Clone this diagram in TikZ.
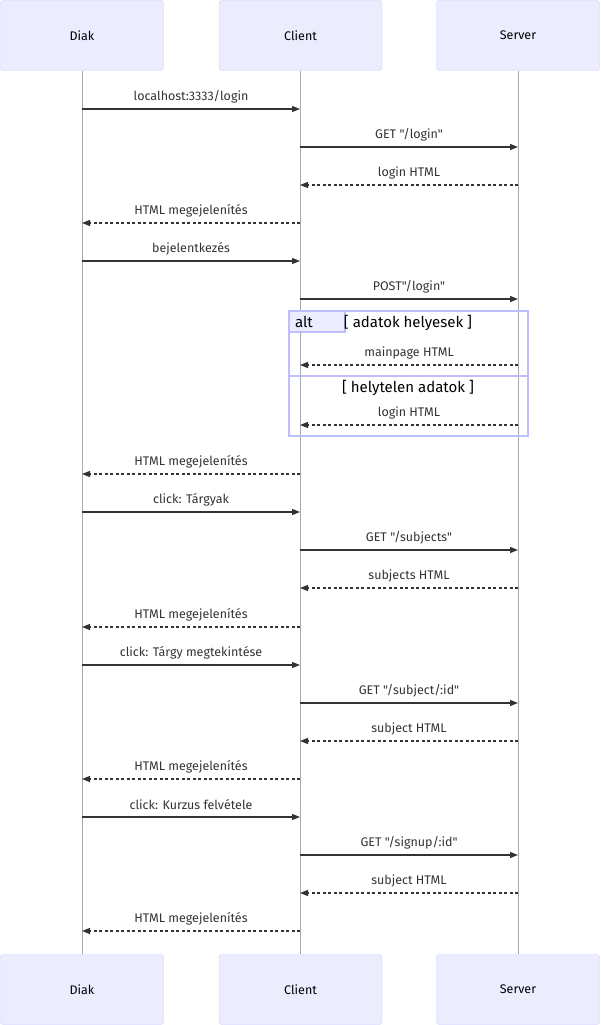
\documentclass[tikz,border=0pt]{standalone}
\usepackage{fontspec}
\setmainfont{Fira Sans}[Ligatures=TeXOff]
\usetikzlibrary{arrows.meta}

\definecolor{actorfill}{RGB}{236,236,255}
\definecolor{actorline}{RGB}{204,204,255}
\definecolor{altline}{RGB}{190,190,250}
\definecolor{msgline}{RGB}{51,51,51}
\definecolor{lifeline}{RGB}{170,170,170}

\tikzset{
  actor/.style={rectangle, draw=actorline, fill=actorfill, rounded corners=3pt,
    minimum width=163pt, minimum height=70pt, inner sep=0pt, font=\fontsize{12.5}{14}\selectfont},
  life/.style={draw=lifeline, line width=0.8pt},
  call/.style={draw=msgline, line width=1.3pt, -{Triangle[length=8pt,width=6pt]}},
  reply/.style={call, dash pattern=on 3pt off 2.5pt},
  msglabel/.style={midway, yshift=12pt, inner sep=0pt, text=msgline, font=\fontsize{12.5}{14}\selectfont},
  altframe/.style={draw=altline, line width=1.6pt},
  guard/.style={inner sep=0pt, text=black, font=\fontsize{15}{17}\selectfont}
}

\begin{document}
\begin{tikzpicture}[x=1pt, y=-1pt]
    \useasboundingbox (0,0) rectangle (600,1025);

    % Actor boxes
    \path
    (82,35.5) node[actor] (DiakTop) {Diak}
    (300.5,35.5) node[actor] (ClientTop) {Client}
    (518,35.5) node[actor] (ServerTop) {Server}
    (82,989.5) node[actor] (DiakBot) {Diak}
    (300.5,989.5) node[actor] (ClientBot) {Client}
    (518,989.5) node[actor] (ServerBot) {Server}
    ;

    % Lifelines
    \draw[life] (DiakTop) -- (DiakBot);
    \draw[life] (ClientTop) -- (ClientBot);
    \draw[life] (ServerTop) -- (ServerBot);

    % Message end points
    \path
    (82,109) coordinate (d1) (300,109) coordinate (c1)
    (300,147) coordinate (c2) (518,147) coordinate (s2)
    (518,185) coordinate (s3) (300,185) coordinate (c3)
    (300,223) coordinate (c4) (82,223) coordinate (d4)
    (82,261) coordinate (d5) (300,261) coordinate (c5)
    (300,299) coordinate (c6) (518,299) coordinate (s6)
    (518,365) coordinate (s7) (300,365) coordinate (c7)
    (518,425) coordinate (s8) (300,425) coordinate (c8)
    (300,474) coordinate (c9) (82,474) coordinate (d9)
    (82,512) coordinate (d10) (300,512) coordinate (c10)
    (300,550) coordinate (c11) (518,550) coordinate (s11)
    (518,588) coordinate (s12) (300,588) coordinate (c12)
    (300,627) coordinate (c13) (82,627) coordinate (d13)
    (82,665) coordinate (d14) (300,665) coordinate (c14)
    (300,703) coordinate (c15) (518,703) coordinate (s15)
    (518,741) coordinate (s16) (300,741) coordinate (c16)
    (300,779) coordinate (c17) (82,779) coordinate (d17)
    (82,817) coordinate (d18) (300,817) coordinate (c18)
    (300,855) coordinate (c19) (518,855) coordinate (s19)
    (518,893) coordinate (s20) (300,893) coordinate (c20)
    (300,931) coordinate (c21) (82,931) coordinate (d21)
    ;

    % Login
    \draw[call] (d1) -- node[msglabel] {localhost:3333/login} (c1);
    \draw[call] (c2) -- node[msglabel] {GET "/login"} (s2);
    \draw[reply] (s3) -- node[msglabel] {login HTML} (c3);
    \draw[reply] (c4) -- node[msglabel] {HTML megejelenítés} (d4);
    \draw[call] (d5) -- node[msglabel] {bejelentkezés} (c5);
    \draw[call] (c6) -- node[msglabel] {POST"/login"} (s6);

    % Alt frame
    \node[altframe, minimum width=239pt, minimum height=125pt, inner sep=0pt] (alt) at (408.5,373.5) {};
    \node[altframe, fill=actorfill, anchor=north west, minimum width=56pt, minimum height=21pt,
      inner sep=0pt, font=\fontsize{15}{17}\selectfont, align=left, text width=44pt] (altTag) at (alt.north west) {alt};
    \node[guard] (okGuard) at (408,323) {[ adatok helyesek ]};
    \coordinate (splitL) at (289,376);
    \coordinate (splitR) at (528,376);
    \draw[altframe] (splitL) -- (splitR);
    \node[guard] (badGuard) at (408,388) {[ helytelen adatok ]};
    \draw[reply] (s7) -- node[msglabel] {mainpage HTML} (c7);
    \draw[reply] (s8) -- node[msglabel] {login HTML} (c8);
    \draw[reply] (c9) -- node[msglabel] {HTML megejelenítés} (d9);

    % Subjects
    \draw[call] (d10) -- node[msglabel] {click: Tárgyak} (c10);
    \draw[call] (c11) -- node[msglabel] {GET "/subjects"} (s11);
    \draw[reply] (s12) -- node[msglabel] {subjects HTML} (c12);
    \draw[reply] (c13) -- node[msglabel] {HTML megejelenítés} (d13);

    % One subject
    \draw[call] (d14) -- node[msglabel] {click: Tárgy megtekintése} (c14);
    \draw[call] (c15) -- node[msglabel] {GET "/subject/:id"} (s15);
    \draw[reply] (s16) -- node[msglabel] {subject HTML} (c16);
    \draw[reply] (c17) -- node[msglabel] {HTML megejelenítés} (d17);

    % Sign up
    \draw[call] (d18) -- node[msglabel] {click: Kurzus felvétele} (c18);
    \draw[call] (c19) -- node[msglabel] {GET "/signup/:id"} (s19);
    \draw[reply] (s20) -- node[msglabel] {subject HTML} (c20);
    \draw[reply] (c21) -- node[msglabel] {HTML megejelenítés} (d21);

\end{tikzpicture}
\end{document}
